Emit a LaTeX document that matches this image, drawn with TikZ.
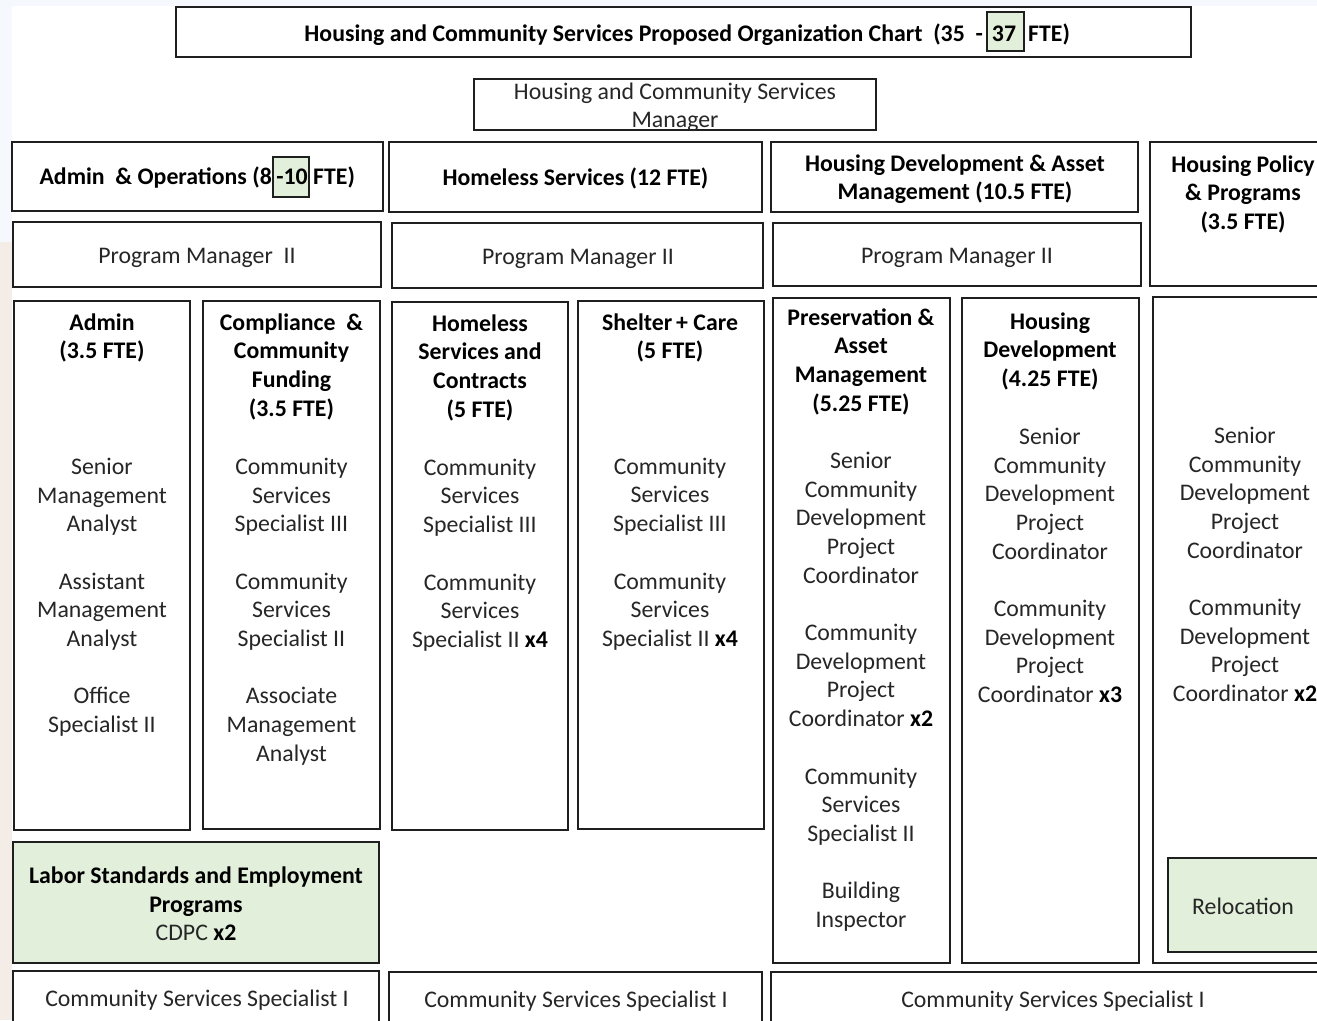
\documentclass[tikz,border=0pt]{standalone}
\usepackage{fontspec}
\setmainfont{Carlito}
\definecolor{lgreen}{HTML}{E2EFDA}
\definecolor{bandblue}{HTML}{F5F8FC}
\definecolor{bandpink}{HTML}{F3ECE7}
\definecolor{txtgray}{HTML}{262626}
\newcommand\fs{\fontsize{23.8}{28.7}\selectfont}
\tikzset{
  bx/.style={draw=black!88, line width=2pt},
  gr/.style={bx, fill=lgreen},
  tx/.style={anchor=north, align=center, inner sep=0pt, font=\fs, text=txtgray},
  tb/.style={tx, font=\fs\bfseries, text=black},
}
\begin{document}
\begin{tikzpicture}[x=1pt,y=-1pt]
\clip (0,0) rectangle (1317,1020);
\fill[white] (0,0) rectangle (1317,1020);
% background bands
\fill[bandblue] (0,0) rectangle (1317,6);
\fill[bandblue] (0,0) rectangle (12,242);
\fill[bandpink] (0,242) rectangle (12,1020);

% title
\draw[bx] (176,7) rectangle (1191,57);
\filldraw[gr, line width=1.5pt] (987,12) rectangle (1024,51);
\node[tb, anchor=north east] (title) at (983,21) {\strut Housing and Community Services Proposed Organization Chart\ \ (35\ \ -};
\node[tb] (titleb) at (1004,21) {\strut 37};
\node[tb, anchor=north west] (titlec) at (1028,21) {\strut FTE)};

% manager
\draw[bx] (474,79) rectangle (876,130);
\node[tx] (mgr) at (675,79) {\strut Housing and Community Services\\Manager};

% row 1 headers
\draw[bx] (12,142) rectangle (383,211);
\filldraw[gr, line width=1.5pt] (273,157) rectangle (309,197);
\node[tb, anchor=north east] (h1) at (272,164) {\strut Admin\ \ \& Operations (8};
\node[tb] (h1b) at (292,164) {\strut -10};
\node[tb, anchor=north west] (h1c) at (313,164) {\strut FTE)};
\draw[bx] (389,142) rectangle (762,212);
\node[tb] (h2) at (575.5,165) {\strut Homeless Services (12 FTE)};
\draw[bx] (771,142) rectangle (1138,212);
\node[tb] (h3) at (955,151) {\strut Housing Development \& Asset\\Management (10.5 FTE)};
\draw[bx] (1150,142) rectangle (1340,286);
\node[tb] (h4) at (1243,152) {\strut Housing Policy\\\& Programs\\(3.5 FTE)};

% row 2 program managers
\draw[bx] (13,222) rectangle (381,287);
\node[tx] (pm1) at (197,243) {\strut Program Manager\ \ II};
\draw[bx] (392,223) rectangle (763,288);
\node[tx] (pm2) at (578,244) {\strut Program Manager II};
\draw[bx] (773,223) rectangle (1141,286);
\node[tx] (pm3) at (957,243) {\strut Program Manager II};

% columns
\draw[bx] (14,301) rectangle (190,830);
\node[tb] (c1h) at (102,310) {\strut Admin\\(3.5 FTE)};
\node[tx] (c1b) at (102,454) {\strut Senior\\Management\\Analyst\\[28.7pt]Assistant\\Management\\Analyst\\[28.7pt]Office\\Specialist II};

\draw[bx] (203,301) rectangle (380,829);
\node[tb] (c2h) at (291.5,310) {\strut Compliance\ \ \&\\Community\\Funding\\(3.5 FTE)};
\node[tx] (c2b) at (291.5,454) {\strut Community\\Services\\Specialist III\\[28.7pt]Community\\Services\\Specialist II\\[28.7pt]Associate\\Management\\Analyst};

\draw[bx] (392,302) rectangle (568,830);
\node[tb] (c3h) at (480,311) {\strut Homeless\\Services and\\Contracts\\(5 FTE)};
\node[tx] (c3b) at (480,455) {\strut Community\\Services\\Specialist III\\[28.7pt]Community\\Services\\Specialist II \textbf{\color{black}x4}};

\draw[bx] (578,301) rectangle (764,829);
\node[tb] (c4h) at (670,310) {\strut Shelter\,+ Care\\(5 FTE)};
\node[tx] (c4b) at (670,454) {\strut Community\\Services\\Specialist III\\[28.7pt]Community\\Services\\Specialist II \textbf{\color{black}x4}};

\draw[bx] (773,298) rectangle (950,963);
\node[tb] (c5h) at (861,305) {\strut Preservation \&\\Asset\\Management\\(5.25 FTE)};
\node[tx] (c5b) at (861,448) {\strut Senior\\Community\\Development\\Project\\Coordinator\\[28.7pt]Community\\Development\\Project\\Coordinator \textbf{\color{black}x2}\\[28.7pt]Community\\Services\\Specialist II\\[28.7pt]Building\\Inspector};

\draw[bx] (962,298) rectangle (1139,963);
\node[tb] (c6h) at (1050,309) {\strut Housing\\Development\\(4.25 FTE)};
\node[tx] (c6b) at (1050,424) {\strut Senior\\Community\\Development\\Project\\Coordinator\\[28.7pt]Community\\Development\\Project\\Coordinator \textbf{\color{black}x3}};

\draw[bx] (1153,297) rectangle (1340,963);
\node[tx] (c7b) at (1245,423) {\strut Senior\\Community\\Development\\Project\\Coordinator\\[28.7pt]Community\\Development\\Project\\Coordinator \textbf{\color{black}x2}};
\draw[gr] (1168,858) rectangle (1340,952);
\node[tx] (reloc) at (1243,894) {\strut Relocation};

% labor standards
\draw[gr] (13,842) rectangle (379,963);
\node[tb] (lab) at (196,863) {\strut Labor Standards and Employment\\Programs};
\node[tx] (cdpc) at (196,920) {\strut CDPC \textbf{\color{black}x2}};

% bottom row
\draw[bx] (13,971) rectangle (379,1040);
\node[tx] (b1) at (197,986) {\strut Community Services Specialist I};
\draw[bx] (389,972) rectangle (762,1040);
\node[tx] (b2) at (576,987) {\strut Community Services Specialist I};
\draw[bx] (771,972) rectangle (1340,1040);
\node[tx] (b3) at (1053,987) {\strut Community Services Specialist I};
\end{tikzpicture}
\end{document}
